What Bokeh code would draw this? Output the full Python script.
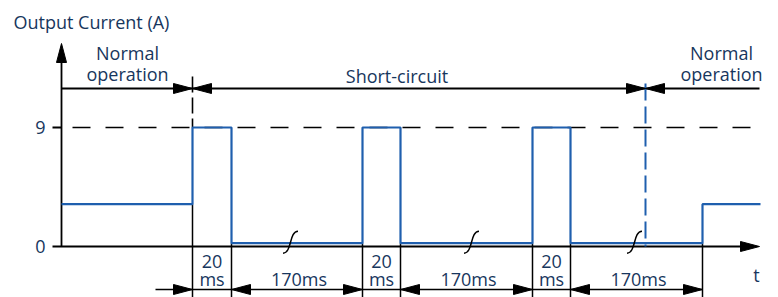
from bokeh.plotting import figure
from bokeh.models import Range1d
from bokeh.core.properties import value
from bokeh.embed import file_html
from bokeh.resources import INLINE

# ---------------- data ----------------
# schematic time axis (not to scale: the 170 ms gaps are drawn broken)
t_edges = [0, 131, 170, 301, 339, 471, 509, 641, 699]     # segment boundaries
current = [3.2, 9, 0.25, 9, 0.25, 9, 0.25, 3.2]          # output current in each segment (A)
y_ticks = [0, 9]
y_tick_labels = ["0", "9"]
limit_level = 9
dim_edges = [131, 170, 301, 339, 471, 509, 641]          # dimensioned intervals
dim_labels = [["20", "ms"], ["170ms"], ["20", "ms"], ["170ms"], ["20", "ms"], ["170ms"]]
short_start = 131
short_end = 584
break_x = [229, 410, 573]                               # time-break marks
phase_labels = [["Normal", "operation"], ["Short-circuit"], ["Normal", "operation"]]
y_title = "Output Current (A)"
x_title = "t"

# ---------------- geometry helpers (pixel scale of the canvas) ----------------
W, H = 778, 297
OX, OY = 61, 246                       # pixel position of the origin
X0, X1 = -OX, W - OX
Y_PX = 119 / 9.0                       # px per ampere
Y1 = OY / Y_PX
Y0 = -(H - OY) / Y_PX

def py(px):
    return px / Y_PX

def sy(px):                            # pixel row -> amperes
    return (OY - px) / Y_PX

BLUE = "#1f5fae"
INK = "#17365d"
FONT = value("Open Sans")
FS = "18px"
MID = 6.5                              # baseline -> visual middle of capitals (px)

p = figure(width=W, height=H, x_range=Range1d(X0, X1), y_range=Range1d(Y0, Y1),
           output_backend="svg", toolbar_location=None,
           x_axis_location=None, y_axis_location=None, min_border=0)
p.grid.visible = False
p.outline_line_color = None
p.background_fill_color = "white"
p.border_fill_color = "white"

def label(x, base_px, txt, align="center"):
    p.text(x=[x], y=[sy(base_px - MID)], text=[txt], text_align=align,
           text_baseline="middle", text_font=FONT, text_font_size=FS, text_color=INK)

def head(tx, ty, d, L=19, Wd=5):
    if d == "r":
        return [tx, tx - L, tx - L], [ty, ty + py(Wd), ty - py(Wd)]
    if d == "l":
        return [tx, tx + L, tx + L], [ty, ty + py(Wd), ty - py(Wd)]
    if d == "u":
        return [tx, tx - Wd, tx + Wd], [ty, ty - py(L), ty - py(L)]

heads_x, heads_y = [], []
def add_head(*a, **k):
    hx, hy = head(*a, **k)
    heads_x.append(hx)
    heads_y.append(hy)

# ---------------- axes ----------------
y_tip = sy(43)
x_tip = 698
p.line([0, 0], [0, y_tip - py(10)], line_color="black", line_width=1.8)
add_head(0, y_tip, "u")
p.line([-9, x_tip - 10], [0, 0], line_color="black", line_width=1.8)
add_head(x_tip, 0, "r")
p.segment(x0=[-9], y0=[limit_level], x1=[0], y1=[limit_level], line_color="black", line_width=1.8)
p.line([0, x_tip + 2], [limit_level, limit_level], line_color="black", line_width=1.6,
       line_dash="18 15", line_dash_offset=22)

p.text(x=[-21] * len(y_ticks), y=y_ticks, text=y_tick_labels, text_align="center",
       text_baseline="middle", text_font=FONT, text_font_size=FS, text_color=INK)
label(-48, 28, y_title, align="left")
label(695, 281, x_title)

# ---------------- phase annotation ----------------
y_ann = sy(88)
p.line([0, 698], [y_ann, y_ann], line_color="black", line_width=1.8)
add_head(short_start, y_ann, "r")
add_head(short_start, y_ann, "l")
add_head(short_end, y_ann, "r")
add_head(short_end, y_ann, "l")
p.line([short_start, short_start], [limit_level, sy(75)], line_color="black",
       line_width=1.6, line_dash="16 5", line_dash_offset=7)
p.line([short_end, short_end], [sy(83), 0], line_color=BLUE, line_width=2,
       line_dash="17 6")

centers = [(0 + short_start) / 2 + 0.5, (short_start + short_end) / 2 - 22,
           (short_end + 698) / 2 + 19]
for cx, lines in zip(centers, phase_labels):
    bases = [59, 80] if len(lines) == 2 else [82]
    for ln, b in zip(lines, bases):
        label(cx, b, ln)

# ---------------- waveform ----------------
wx, wy = [], []
for i, lvl in enumerate(current):
    wx += [t_edges[i], t_edges[i + 1]]
    wy += [lvl, lvl]

# extension lines under each edge
ext_x0, ext_y0, ext_x1, ext_y1 = [], [], [], []
for i in range(1, len(t_edges) - 1):
    ext_x0.append(t_edges[i]); ext_x1.append(t_edges[i])
    ext_y0.append(min(current[i - 1], current[i])); ext_y1.append(Y0)
p.segment(x0=ext_x0, y0=ext_y0, x1=ext_x1, y1=ext_y1, line_color="black", line_width=1.5)

p.line(wx, wy, line_color=BLUE, line_width=2.2)

# time-break marks
for bx in break_x:
    i = max(k for k in range(len(t_edges) - 1) if t_edges[k] <= bx)
    yl = current[i]
    p.bezier(x0=[bx - 7.5], y0=[yl - py(10)], x1=[bx + 7.5], y1=[yl + py(12)],
             cx0=[bx + 1.5], cy0=[yl - py(10)], cx1=[bx - 1.5], cy1=[yl + py(12)],
             line_color="black", line_width=1.5)

# ---------------- dimension line ----------------
y_dim = sy(289)
p.line([94, dim_edges[-1]], [y_dim, y_dim], line_color="black", line_width=1.6)
for k, e in enumerate(dim_edges):
    add_head(e, y_dim, "r" if k % 2 == 0 else "l", L=19, Wd=5)
for k, lines in enumerate(dim_labels):
    cx = (dim_edges[k] + dim_edges[k + 1]) / 2 + (2 if len(lines) == 1 else 0)
    bases = [267, 285] if len(lines) == 2 else [285]
    for ln, b in zip(lines, bases):
        label(cx, b, ln)

p.patches(heads_x, heads_y, fill_color="black", line_color="black", line_width=1)

open("out.html", "w").write(file_html(p, INLINE))
